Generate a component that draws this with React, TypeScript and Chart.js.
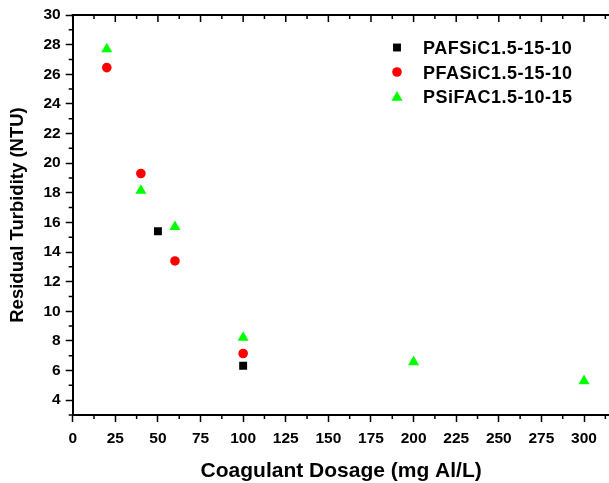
import React, { useEffect, useRef } from 'react';
import { Chart, registerables } from 'chart.js';

Chart.register(...registerables);

// ---- data ----
const seriesNames = ['PAFSiC1.5-15-10', 'PFASiC1.5-15-10', 'PSiFAC1.5-10-15'];
const pafsicDose = [50, 100];
const pafsicTurbidity = [15.4, 6.32];
const pfasicDose = [20, 40, 60, 100];
const pfasicTurbidity = [26.45, 19.3, 13.4, 7.15];
const psifacDose = [20, 40, 60, 100, 200, 300];
const psifacTurbidity = [27.7, 18.15, 15.7, 8.22, 6.58, 5.3];
const xTickValues = [0, 25, 50, 75, 100, 125, 150, 175, 200, 225, 250, 275, 300];
const yTickValues = [4, 6, 8, 10, 12, 14, 16, 18, 20, 22, 24, 26, 28, 30];
const xTitle = 'Coagulant Dosage (mg Al/L)';
const yTitle = 'Residual Turbidity (NTU)';

const FONT = "'Liberation Sans', Arial, sans-serif";
const colors = ['#000000', '#ff0000', '#00ff00'];
const styles = ['rect', 'circle', 'triangle'];
const radii = [5.6, 4.8, 6.4];

function toPoints(xs: number[], ys: number[]) {
  return xs.map((x, i) => ({ x, y: ys[i] }));
}

function drawMarker(ctx: CanvasRenderingContext2D, style: string, x: number, y: number, r: number, color: string) {
  ctx.fillStyle = color;
  ctx.beginPath();
  if (style === 'rect') {
    const s = Math.SQRT1_2 * r;
    ctx.rect(x - s, y - s, 2 * s, 2 * s);
  } else if (style === 'circle') {
    ctx.arc(x, y, r, 0, Math.PI * 2);
  } else {
    ctx.moveTo(x, y - r);
    ctx.lineTo(x + r * Math.cos(Math.PI / 6), y + r * 0.5);
    ctx.lineTo(x - r * Math.cos(Math.PI / 6), y + r * 0.5);
    ctx.closePath();
  }
  ctx.fill();
}

const decorPlugin = {
  id: 'decor',
  afterDraw(chart: any) {
    const { ctx, chartArea: a, scales } = chart;
    const x = scales.x;
    const y = scales.y;
    ctx.save();
    ctx.strokeStyle = '#000';
    // top border
    ctx.lineWidth = 2;
    ctx.beginPath();
    ctx.moveTo(a.left - 1, a.top);
    ctx.lineTo(a.right, a.top);
    ctx.stroke();
    ctx.lineWidth = 1.5;
    ctx.beginPath();
    xTickValues.forEach((v) => {
      const px = x.getPixelForValue(v);
      ctx.moveTo(px, a.top);
      ctx.lineTo(px, a.top + 7);
      const m = v + 12.5;
      if (m <= x.max) {
        const pm = x.getPixelForValue(m);
        ctx.moveTo(pm, a.top);
        ctx.lineTo(pm, a.top + 4);
        ctx.moveTo(pm, a.bottom);
        ctx.lineTo(pm, a.bottom + 4);
      }
    });
    yTickValues.forEach((v) => {
      const m = v - 1;
      if (m >= y.min) {
        const pm = y.getPixelForValue(m);
        ctx.moveTo(a.left - 4, pm);
        ctx.lineTo(a.left, pm);
      }
    });
    ctx.stroke();

    // legend
    const mx = 397;
    const tx = 423;
    const base0 = 54;
    const step = 24.5;
    ctx.font = `bold 18px ${FONT}`;
    (ctx as any).letterSpacing = '0.5px';
    ctx.textBaseline = 'alphabetic';
    ctx.textAlign = 'left';
    seriesNames.forEach((name, i) => {
      const by = base0 + i * step;
      drawMarker(ctx, styles[i], mx, by - 6.5 + (styles[i] === 'triangle' ? 1 : 0), radii[i], colors[i]);
      ctx.fillStyle = '#000';
      ctx.fillText(name, tx, by);
    });
    (ctx as any).letterSpacing = '0px';
    ctx.restore();
  },
};

export default function App() {
  const ref = useRef<HTMLCanvasElement | null>(null);
  useEffect(() => {
    if (!ref.current) return;
    const datasets = [
      toPoints(pafsicDose, pafsicTurbidity),
      toPoints(pfasicDose, pfasicTurbidity),
      toPoints(psifacDose, psifacTurbidity),
    ].map((data, i) => ({
      label: seriesNames[i],
      data,
      pointStyle: styles[i] as any,
      pointRadius: radii[i],
      pointBackgroundColor: colors[i],
      pointBorderColor: colors[i],
      pointBorderWidth: 0,
      showLine: false,
    }));
    const chart = new Chart(ref.current, {
      type: 'scatter',
      data: { datasets },
      plugins: [decorPlugin],
      options: {
        animation: false,
        responsive: false,
        layout: { autoPadding: false, padding: { left: 0, top: 15, right: 2.4, bottom: 0 } },
        plugins: { legend: { display: false }, tooltip: { enabled: false } },
        scales: {
          x: {
            type: 'linear',
            min: 0,
            max: 315,
            afterBuildTicks: (s: any) => {
              s.ticks = xTickValues.map((v) => ({ value: v }));
            },
            afterFit: (s: any) => {
              s.height = 68;
              s.paddingLeft = 0;
              s.paddingRight = 0;
            },
            ticks: {
              autoSkip: false,
              maxRotation: 0,
              padding: 7,
              color: '#000',
              font: { family: FONT, size: 15.5, weight: 'bold' },
            },
            grid: {
              display: true,
              drawOnChartArea: false,
              drawTicks: true,
              tickLength: 7,
              tickWidth: 1.5,
              tickColor: '#000',
            },
            border: { display: true, color: '#000', width: 2 },
            title: {
              display: true,
              text: xTitle,
              color: '#000',
              font: { family: FONT, size: 21, weight: 'bold', lineHeight: 1 },
              padding: { top: 0, bottom: 1.3 },
            },
          },
          y: {
            type: 'linear',
            min: 3,
            max: 30,
            afterBuildTicks: (s: any) => {
              s.ticks = yTickValues.map((v) => ({ value: v }));
            },
            afterFit: (s: any) => {
              s.width = 72.7;
              s.paddingTop = 0;
              s.paddingBottom = 0;
            },
            ticks: {
              autoSkip: false,
              padding: 5,
              color: '#000',
              font: { family: FONT, size: 15.5, weight: 'bold' },
            },
            grid: {
              display: true,
              drawOnChartArea: false,
              drawTicks: true,
              tickLength: 7,
              tickWidth: 1.5,
              tickColor: '#000',
            },
            border: { display: true, color: '#000', width: 2 },
            title: {
              display: true,
              text: yTitle,
              color: '#000',
              font: { family: FONT, size: 18.5, weight: 'bold', lineHeight: 1 },
              padding: { top: 8.9, bottom: 0 },
            },
          },
        },
      } as any,
    });
    return () => chart.destroy();
  }, []);
  return (
    <div style={{ position: 'absolute', left: 0, top: 0, width: 609, height: 483, overflow: 'hidden', background: '#fff' }}>
      <canvas ref={ref} width={612} height={483} style={{ display: 'block', width: 612, height: 483 }} />
    </div>
  );
}
